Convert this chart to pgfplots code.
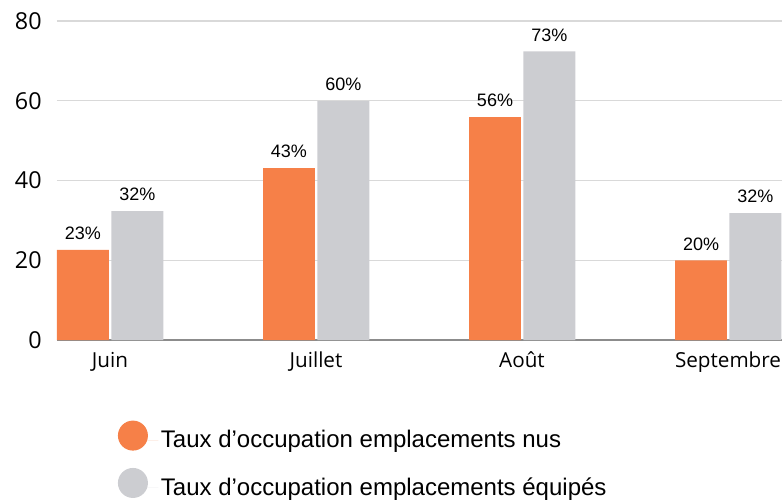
\documentclass[border=0pt]{standalone}
\usepackage{fontspec}
\setmainfont{Liberation Sans}
\newfontfamily\tickfont{Open Sans}
\usepackage{pgfplots}
\pgfplotsset{compat=1.18}
\definecolor{orangebar}{RGB}{246,128,72}
\definecolor{greybar}{RGB}{204,205,209}
\begin{document}
\begin{tikzpicture}
\useasboundingbox (-42.75pt,-122.25pt) rectangle (543.75pt,255pt);
\begin{axis}[
 scale only axis, width=543.75pt, height=239.25pt,
 xmin=-0.257, xmax=3.262, ymin=0, ymax=80,
 axis line style={draw=none},
 ytick={0,20,40,60,80},
 ymajorgrids, grid style={color=black!15, line width=0.8pt},
 major tick length=0pt,
 /pgf/number format/assume math mode=true,
 xtick={0,1,2,3}, xticklabels={Juin,Juillet,Août,Septembre},
 xticklabel style={font=\tickfont\fontsize{15.5}{18}\selectfont, yshift=-5.5pt},
 yticklabel style={font=\tickfont\fontsize{17.5}{19}\selectfont, xshift=-8pt},
 ybar, bar width=0.252,
 nodes near coords, point meta=explicit symbolic,
 nodes near coords style={font=\fontsize{13.5}{15}\selectfont, yshift=4pt, text=black},
 clip=false,
 legend style={draw=none, at={(0,0)}, anchor=north west, xshift=42.5pt, yshift=-58.25pt,
   font=\fontsize{18}{20}\selectfont, row sep=11.5pt},
 legend cell align=left,
]
\draw[color=black!45, line width=0.8pt] (axis cs:-0.257,0) -- (axis cs:3.262,0);
\addplot[fill=orangebar, draw=none, bar shift=-0.131,
  legend image code/.code={\fill[orangebar] (0pt,0.35em) circle (11.25pt); \path (0pt,0pt) -- (19pt,0pt);}]
  coordinates {(0,22.6) [23\%] (1,43.1) [43\%] (2,55.9) [56\%] (3,20.0) [20\%]};
\addlegendentry{Taux d’occupation emplacements nus}
\addplot[fill=greybar, draw=none, bar shift=0.133,
  legend image code/.code={\fill[greybar] (0pt,0.35em) circle (11.25pt); \path (0pt,0pt) -- (19pt,0pt);}]
  coordinates {(0,32.3) [32\%] (1,59.9) [60\%] (2,72.4) [73\%] (3,31.8) [32\%]};
\addlegendentry{Taux d’occupation emplacements équipés}
\end{axis}
\end{tikzpicture}
\end{document}
